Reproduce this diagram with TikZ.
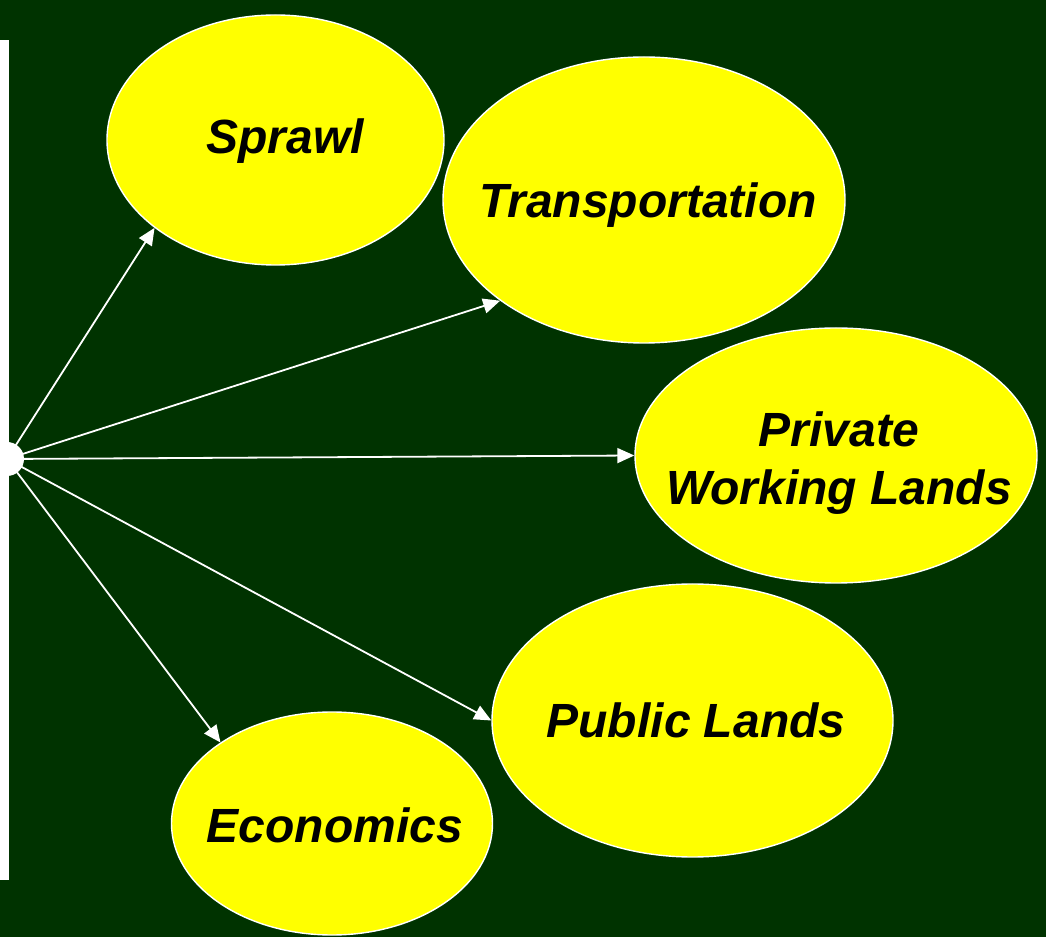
\documentclass[tikz,border=0pt]{standalone}
\usepackage{fontspec}
\setmainfont{Liberation Sans}
\usetikzlibrary{shapes.geometric,arrows.meta}
\definecolor{bgGreen}{RGB}{0,51,0}
\definecolor{bubbleYellow}{RGB}{255,255,0}
\tikzset{
  bubble/.style={ellipse, draw=white, line width=1.4pt, fill=bubbleYellow, inner sep=0pt},
  lbl/.style={inner sep=0pt, text=black, font=\fontsize{48}{58}\selectfont\bfseries\itshape, align=center},
  conn/.style={draw=white, line width=1.8pt, -{Triangle[length=17pt,width=15pt]}},
}
\begin{document}
\begin{tikzpicture}[x=1pt,y=1pt]
\fill[bgGreen] (0,0) rectangle (1046,937);
\useasboundingbox (0,0) rectangle (1046,937);
% left white bar and hub
\fill[white] (0,57) rectangle (9,897);
\node[circle, fill=white, minimum size=34pt, inner sep=0pt] (hub) at (7,478) {};
% bubbles
\node[bubble, minimum width=337pt, minimum height=250pt] (sprawl) at (275.5,797) {};
\node[bubble, minimum width=402pt, minimum height=286pt] (transport) at (644,737) {};
\node[bubble, minimum width=402pt, minimum height=255pt] (private) at (836,481.5) {};
\node[bubble, minimum width=401pt, minimum height=273pt] (public) at (692.5,216.5) {};
\node[bubble, minimum width=321pt, minimum height=223pt] (econ) at (332,113.5) {};
% labels
\node[lbl, anchor=base] (sprawlT) at (285,783) {Sprawl};
\node[lbl, anchor=base] (transportT) at (648,719) {Transportation};
\node[lbl, anchor=north] (privateT) at (839,525) {Private\\Working Lands};
\node[lbl, anchor=base] (publicT) at (696,199) {Public Lands};
\node[lbl, anchor=base] (econT) at (335,95) {Economics};
% connectors
\draw[conn] (hub.center) -- (sprawl.216.7);
\draw[conn] (hub.center) -- (transport.215.3);
\draw[conn] (hub.center) -- (private.180);
\draw[conn] (hub.center) -- (public.180);
\draw[conn] (hub.center) -- (econ.144.9);
\end{tikzpicture}
\end{document}
